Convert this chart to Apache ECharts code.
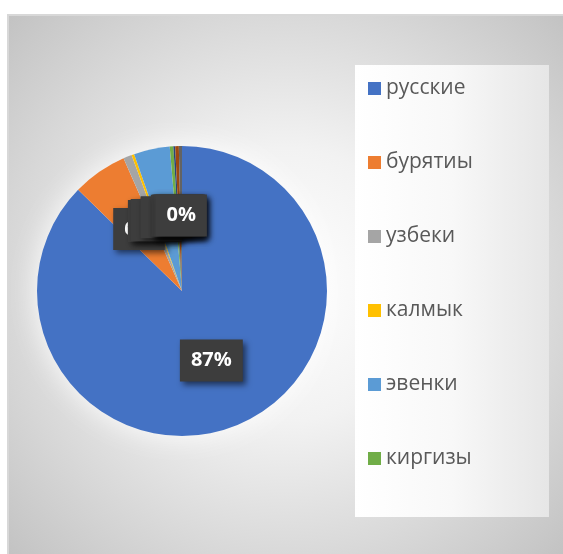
<!DOCTYPE html>
<html>
<head>
<meta charset="UTF-8">
<title>Pie</title>
<script src="https://cdn.jsdelivr.net/npm/echarts@6/dist/echarts.min.js"></script>
<style>
  body { margin: 0; background: #fff; }
  #main { width: 563px; height: 554px; }
</style>
</head>
<body>
<div id="main"></div>
<script type="text/javascript">
  // shares in %
  var names = ['русские', 'бурятиы', 'узбеки', 'калмык', 'эвенки', 'киргизы', 'прочие 1', 'прочие 2', 'прочие 3'];
  var values = [87.2, 6.1, 0.95, 0.3, 4.0, 0.4, 0.2, 0.4, 0.35];
  var legendNames = ['русские', 'бурятиы', 'узбеки', 'калмык', 'эвенки', 'киргизы'];
  var colors = ['#4472C4', '#ED7D31', '#A5A5A5', '#FFC000', '#5B9BD5', '#70AD47', '#264478', '#9E480E', '#636363'];

  var chart = echarts.init(document.getElementById('main'));

  var pieData = names.map(function (n, i) {
    return { name: n, value: values[i] };
  });

  var option = {
    color: colors,
    animation: false,
    graphic: [
      {
        // chart area with radial gradient
        type: 'rect', z: -10,
        shape: { x: 8, y: 15, width: 556, height: 540 },
        style: {
          fill: {
            type: 'radial', x: 0.5, y: 0.5, r: 0.72,
            colorStops: [
              { offset: 0, color: '#ffffff' },
              { offset: 0.35, color: '#f2f2f2' },
              { offset: 1, color: '#c2c2c2' }
            ]
          },
          stroke: '#d8d8d8',
          lineWidth: 2
        }
      },
      {
        // soft glow behind the pie
        type: 'circle', z: -8,
        shape: { cx: 182, cy: 291, r: 144 },
        style: { fill: '#ffffff', shadowColor: 'rgba(255,255,255,1)', shadowBlur: 30 }
      },
      {
        // legend panel
        type: 'rect', z: -9,
        shape: { x: 355, y: 65, width: 194, height: 452 },
        style: {
          fill: {
            type: 'linear', x: 0, y: 0, x2: 1, y2: 0,
            colorStops: [
              { offset: 0, color: '#ffffff' },
              { offset: 0.5, color: '#f8f8f8' },
              { offset: 1, color: '#e6e6e6' }
            ]
          }
        }
      }
    ],
    legend: {
      data: legendNames,
      orient: 'vertical',
      left: 368, top: 78,
      padding: 0,
      itemWidth: 13, itemHeight: 13, itemGap: 53,
      icon: 'rect',
      textStyle: { fontFamily: 'Open Sans', fontSize: 21, color: '#595959', lineHeight: 21 }
    },
    series: [
      {
        type: 'pie',
        center: [182, 291],
        radius: 145,
        startAngle: 90,
        clockwise: true,
        avoidLabelOverlap: false,
        minShowLabelAngle: 0,
        data: pieData,
        label: {
          show: true,
          position: 'inside',
          rotate: 0,
          formatter: function (p) { return Math.round(p.percent) + '%'; },
          color: '#ffffff',
          fontFamily: 'Open Sans',
          fontWeight: 'bold',
          fontSize: 20,
          backgroundColor: '#3d3d3d',
          padding: [11, 11, 11, 11],
          shadowColor: 'rgba(0,0,0,0.55)',
          shadowBlur: 6, shadowOffsetX: 3, shadowOffsetY: 3
        },
        labelLayout: { hideOverlap: false, moveOverlap: null },
        labelLine: { show: false },
        emphasis: { disabled: true }
      }
    ]
  };

  chart.setOption(option);
</script>
</body>
</html>
